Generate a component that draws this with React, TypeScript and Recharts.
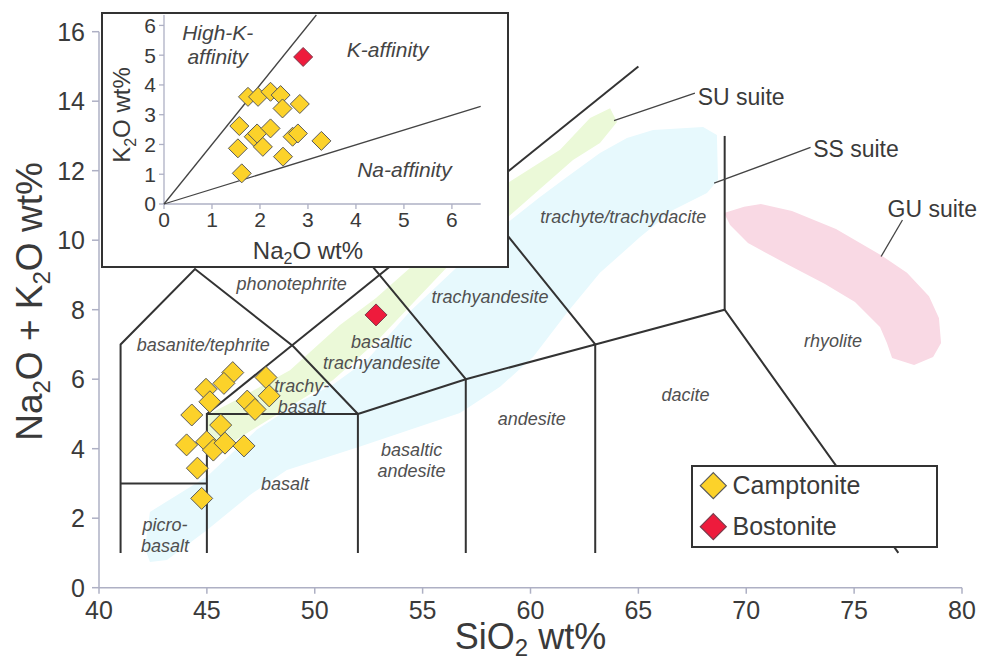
import React from 'react';
import { ScatterChart, Scatter, XAxis, YAxis, Label } from 'recharts';

const FONT = '"Liberation Sans", Arial, Helvetica, sans-serif';
const AXIS_COLOR = '#aeb0c4';
const LINE_COLOR = '#333333';
const TEXT_COLOR = '#3a3a3a';
const LABEL_COLOR = '#505050';
const CAMP_FILL = '#fcd22a';
const CAMP_STROKE = '#5a5a5a';
const BOST_FILL = '#ee1b3c';
const BOST_STROKE = '#7a3a4a';

// ---------------- Main TAS data (SiO2 wt%, Na2O+K2O wt%) ----------------
const camptoniteSiO2 = [46.2, 45.79, 44.96, 45.14, 44.3, 47.74, 46.87, 47.89, 47.23, 45.64, 44.06, 44.99, 45.3, 45.84, 46.72, 44.56, 44.76];
const camptoniteAlkali = [6.19, 5.88, 5.71, 5.35, 4.97, 6.05, 5.37, 5.52, 5.13, 4.68, 4.11, 4.2, 3.96, 4.16, 4.08, 3.44, 2.57];
const bostoniteSiO2 = [52.84];
const bostoniteAlkali = [7.85];

// ---------------- Inset data (Na2O wt%, K2O wt%) ----------------
const insetCamptoniteNa2O = [1.75, 1.96, 2.22, 2.43, 2.47, 2.83, 1.57, 1.87, 1.94, 2.22, 2.68, 2.79, 1.54, 2.06, 2.48, 3.28, 1.62];
const insetCamptoniteK2O = [3.6, 3.6, 3.77, 3.66, 3.21, 3.36, 2.62, 2.26, 2.37, 2.54, 2.26, 2.37, 1.87, 1.92, 1.59, 2.12, 1.03];
const insetBostoniteNa2O = [2.9];
const insetBostoniteK2O = [4.94];

// ---------------- Ticks ----------------
const xTicks = [40, 45, 50, 55, 60, 65, 70, 75, 80];
const yTicks = [0, 2, 4, 6, 8, 10, 12, 14, 16];
const insetTicks = [0, 1, 2, 3, 4, 5, 6];

// ---------------- TAS field boundaries ----------------
const boundaryOuter = [[41, 1], [41, 7], [44.45, 9.17], [49, 6.95], [52, 5], [52, 1]];
const boundaryPicro = [[41, 3], [45, 3]];
const boundaryBasalt = [[45, 1], [45, 5], [52, 5]];
const boundaryDiagonal = [[45, 5], [65, 15]];
const boundarySubalkaline = [[52, 5], [57, 6], [63, 7], [69, 8], [77.05, 1]];
const boundary57 = [[57, 1], [57, 6], [53, 9], [51.5, 10.13]];
const boundary63 = [[63, 1], [63, 7], [57.5, 11.24]];
const boundary69 = [[69, 8], [69, 13]];

// ---------------- Suite envelopes ----------------
const suSiO2 = [45.01, 46.54, 48.85, 51.17, 52.84, 54.41, 56.73, 58.96, 61.37, 62.76, 63.69, 64.01, 63.22, 61.97, 58.96, 56.36, 52.84, 50.85, 47.46, 45.01];
const suAlkali = [4.97, 5.46, 6.26, 7.56, 8.34, 9.2, 10.29, 11.65, 12.6, 13.52, 13.8, 13.4, 12.8, 12.31, 10.67, 9.37, 7.07, 5.98, 4.68, 3.73];
const ssSiO2 = [42.13, 42.36, 45.01, 47.32, 49.32, 50.85, 52.42, 54.41, 56.55, 58.96, 60.44, 61.69, 63.22, 64.47, 65.68, 68.0, 68.64, 68.69, 68.18, 66.61, 65.08, 63.22, 61.69, 60.12, 58.59, 56.73, 55.48, 52.0, 48.71, 47.0, 45.01, 43.15, 42.36];
const ssAlkali = [1.14, 2.18, 3.2, 4.55, 5.35, 5.85, 6.55, 7.95, 9.2, 10.52, 11.24, 11.82, 12.51, 12.94, 13.17, 13.26, 13.03, 11.73, 11.36, 10.87, 10.09, 9.06, 7.91, 6.64, 5.78, 5.03, 4.77, 4.04, 3.39, 2.67, 1.66, 0.8, 0.74];
const guSiO2 = [68.97, 69.9, 70.68, 72.12, 74.16, 76.25, 77.45, 78.47, 78.93, 79.03, 78.66, 77.78, 76.76, 76.52, 76.2, 75.04, 73.65, 71.94, 70.08, 69.25];
const guAlkali = [10.78, 10.96, 11.04, 10.84, 10.32, 9.57, 9.06, 8.39, 7.76, 7.04, 6.64, 6.41, 6.61, 7.04, 7.5, 8.22, 8.74, 9.29, 9.92, 10.44];

const suLeader = [[63.87, 13.44], [67.62, 14.23]];
const ssLeader = [[68.51, 11.64], [72.98, 12.67]];
const guLeader = [[76.25, 9.53], [77.24, 10.58]];

const suiteLabelText = ['SU suite', 'SS suite', 'GU suite'];
const suiteLabelSiO2 = [67.75, 73.1, 76.55];
const suiteLabelAlkali = [14.13, 12.64, 10.89];

const fieldLabelText = [
  'phonotephrite', 'basanite/tephrite', 'trachy-\nbasalt', 'basaltic\ntrachyandesite', 'trachyandesite',
  'basaltic\nandesite', 'basalt', 'picro-\nbasalt', 'andesite', 'dacite', 'rhyolite', 'trachyte/trachydacite',
];
const fieldLabelSiO2 = [48.93, 44.83, 49.4, 53.1, 58.12, 54.49, 48.62, 43.06, 60.06, 67.19, 74.02, 64.3];
const fieldLabelAlkali = [8.76, 6.98, 5.5, 6.78, 8.37, 3.67, 3.0, 1.5, 4.85, 5.55, 7.11, 10.68];

// ---------------- Inset lines & labels ----------------
const insetHighKLine = [[0, 0], [3.175, 6.35]];
const insetNaLine = [[0, 0], [6.6, 3.28]];
const insetLabelText = ['High-K-\naffinity', 'K-affinity', 'Na-affinity'];
const insetLabelNa2O = [1.12, 4.66, 5.01];
const insetLabelK2O = [5.34, 5.17, 1.14];

// ---------------- helpers ----------------
const toXY = (xs: number[], ys: number[]) => xs.map((x, i) => ({ x, y: ys[i] }));
const pairs = (pts: number[][]) => pts.map(([x, y]) => ({ x, y }));
const labelRows = (texts: string[], xs: number[], ys: number[]) => texts.map((t, i) => ({ x: xs[i], y: ys[i], text: t }));

const noDot = () => <g />;

const polygonLine = (fill: string) => (p: any) => (
  <polygon points={(p.points || []).map((q: any) => `${q.x},${q.y}`).join(' ')} fill={fill} stroke="none" />
);

const diamond = (r: number, fill: string, stroke: string) => (p: any) => {
  const { cx, cy } = p;
  return (
    <polygon
      points={`${cx},${cy - r} ${cx + r},${cy} ${cx},${cy + r} ${cx - r},${cy}`}
      fill={fill}
      stroke={stroke}
      strokeWidth={1}
    />
  );
};

const textShape = (size: number, italic: boolean, anchor: 'start' | 'middle', color: string, lineH: number) => (p: any) => {
  const d = p.payload ?? p;
  const lines = String(d.text).split('\n');
  const y0 = p.cy - ((lines.length - 1) * lineH) / 2;
  return (
    <text textAnchor={anchor} fontSize={size} fontStyle={italic ? 'italic' : 'normal'} fill={color} fontFamily={FONT}>
      {lines.map((l, i) => (
        <tspan key={i} x={p.cx} y={y0 + i * lineH} dy="0.35em">
          {l}
        </tspan>
      ))}
    </text>
  );
};

const lineStyle = (stroke: string, width: number) => ({ stroke, strokeWidth: width, fill: 'none' });

const XTitle = (props: any) => {
  const vb = props.viewBox || { x: 99, y: 587.7, width: 863, height: 74 };
  const cx = vb.x + vb.width / 2;
  const y = vb.y + 61;
  return (
    <text x={cx} y={y} textAnchor="middle" fontSize={36} fill={TEXT_COLOR} fontFamily={FONT}>
      SiO<tspan fontSize={24} dy={7}>2</tspan>
      <tspan dy={-7}> wt%</tspan>
    </text>
  );
};

const YTitle = (props: any) => {
  const vb = props.viewBox || { x: 0, y: 31.7, width: 99, height: 556 };
  const cx = 41.7;
  const cy = vb.y + 269.8;
  return (
    <text x={cx} y={cy} transform={`rotate(-90 ${cx} ${cy})`} textAnchor="middle" fontSize={37} fill={TEXT_COLOR} fontFamily={FONT}>
      Na<tspan fontSize={24} dy={8}>2</tspan>
      <tspan dy={-8}>O + K</tspan>
      <tspan fontSize={24} dy={8}>2</tspan>
      <tspan dy={-8}>O wt%</tspan>
    </text>
  );
};

const InsetXTitle = (props: any) => {
  const vb = props.viewBox || { x: 61, y: 190, width: 317, height: 62 };
  const cx = vb.x + 144;
  const y = vb.y + 55;
  return (
    <text x={cx} y={y} textAnchor="middle" fontSize={24} fill={TEXT_COLOR} fontFamily={FONT}>
      Na<tspan fontSize={16} dy={5}>2</tspan>
      <tspan dy={-5}>O wt%</tspan>
    </text>
  );
};

const InsetYTitle = (props: any) => {
  const vb = props.viewBox || { x: 0, y: 1, width: 61, height: 189 };
  const cx = 27;
  const cy = vb.y + 100;
  return (
    <text x={cx} y={cy} transform={`rotate(-90 ${cx} ${cy})`} textAnchor="middle" fontSize={24} fill={TEXT_COLOR} fontFamily={FONT}>
      K<tspan fontSize={16} dy={6}>2</tspan>
      <tspan dy={-6}>O wt%</tspan>
    </text>
  );
};

const axisTick = (size: number) => ({ fill: TEXT_COLOR, fontSize: size, fontFamily: FONT });

const boundaries = [boundaryOuter, boundaryPicro, boundaryBasalt, boundaryDiagonal, boundarySubalkaline, boundary57, boundary63, boundary69];
const leaders = [suLeader, ssLeader, guLeader];

function MainChart() {
  return (
    <ScatterChart width={984} height={662} margin={{ top: 31.7, right: 22, bottom: 0, left: 0 }}>
      <XAxis
        type="number"
        dataKey="x"
        domain={[40, 80]}
        ticks={xTicks}
        interval={0}
        height={74.3}
        axisLine={{ stroke: AXIS_COLOR, strokeWidth: 1.5 }}
        tickLine={{ stroke: AXIS_COLOR, strokeWidth: 1.5 }}
        tickSize={6}
        tickMargin={8}
        tick={axisTick(25)}
      >
        <Label content={XTitle} />
      </XAxis>
      <YAxis
        type="number"
        dataKey="y"
        domain={[0, 16]}
        ticks={yTicks}
        interval={0}
        width={99}
        axisLine={{ stroke: AXIS_COLOR, strokeWidth: 1.5 }}
        tickLine={{ stroke: AXIS_COLOR, strokeWidth: 1.5 }}
        tickSize={7}
        tickMargin={7}
        tick={axisTick(25)}
      >
        <Label content={YTitle} />
      </YAxis>

      <Scatter data={toXY(ssSiO2, ssAlkali)} shape={noDot} line={polygonLine('#e7f9fd')} isAnimationActive={false} />
      <Scatter data={toXY(suSiO2, suAlkali)} shape={noDot} line={polygonLine('#ebf9d8')} isAnimationActive={false} />
      <Scatter data={toXY(guSiO2, guAlkali)} shape={noDot} line={polygonLine('#f9d9e4')} isAnimationActive={false} />

      {boundaries.map((b, i) => (
        <Scatter key={`b${i}`} data={pairs(b)} shape={noDot} line={lineStyle(LINE_COLOR, 2)} isAnimationActive={false} />
      ))}
      {leaders.map((b, i) => (
        <Scatter key={`l${i}`} data={pairs(b)} shape={noDot} line={lineStyle('#444', 1.3)} isAnimationActive={false} />
      ))}

      <Scatter
        data={labelRows(fieldLabelText, fieldLabelSiO2, fieldLabelAlkali)}
        shape={textShape(18, true, 'middle', LABEL_COLOR, 21)}
        isAnimationActive={false}
      />
      <Scatter
        data={labelRows(suiteLabelText, suiteLabelSiO2, suiteLabelAlkali)}
        shape={textShape(23, false, 'start', TEXT_COLOR, 24)}
        isAnimationActive={false}
      />

      <Scatter data={toXY(camptoniteSiO2, camptoniteAlkali)} shape={diamond(11, CAMP_FILL, CAMP_STROKE)} isAnimationActive={false} />
      <Scatter data={toXY(bostoniteSiO2, bostoniteAlkali)} shape={diamond(11, BOST_FILL, BOST_STROKE)} isAnimationActive={false} />
    </ScatterChart>
  );
}

function InsetChart() {
  return (
    <ScatterChart width={404} height={252} margin={{ top: 1, right: 26.3, bottom: 0, left: 0 }}>
      <XAxis
        type="number"
        dataKey="x"
        domain={[0, 6.6]}
        ticks={insetTicks}
        interval={0}
        height={62}
        axisLine={{ stroke: AXIS_COLOR, strokeWidth: 1.3 }}
        tickLine={{ stroke: AXIS_COLOR, strokeWidth: 1.3 }}
        tickSize={5}
        tickMargin={3}
        tick={axisTick(21)}
      >
        <Label content={InsetXTitle} />
      </XAxis>
      <YAxis
        type="number"
        dataKey="y"
        domain={[0, 6.35]}
        ticks={insetTicks}
        interval={0}
        width={61}
        axisLine={{ stroke: AXIS_COLOR, strokeWidth: 1.3 }}
        tickLine={{ stroke: AXIS_COLOR, strokeWidth: 1.3 }}
        tickSize={5}
        tickMargin={3}
        tick={axisTick(21)}
      >
        <Label content={InsetYTitle} />
      </YAxis>
      <Scatter data={pairs(insetHighKLine)} shape={noDot} line={lineStyle('#444', 1.3)} isAnimationActive={false} />
      <Scatter data={pairs(insetNaLine)} shape={noDot} line={lineStyle('#444', 1.3)} isAnimationActive={false} />
      <Scatter
        data={labelRows(insetLabelText, insetLabelNa2O, insetLabelK2O)}
        shape={textShape(21, true, 'middle', '#444', 24)}
        isAnimationActive={false}
      />
      <Scatter data={toXY(insetCamptoniteNa2O, insetCamptoniteK2O)} shape={diamond(9.5, CAMP_FILL, CAMP_STROKE)} isAnimationActive={false} />
      <Scatter data={toXY(insetBostoniteNa2O, insetBostoniteK2O)} shape={diamond(9.5, BOST_FILL, BOST_STROKE)} isAnimationActive={false} />
    </ScatterChart>
  );
}

function LegendBox() {
  const items = [
    { name: 'Camptonite', fill: CAMP_FILL, stroke: CAMP_STROKE },
    { name: 'Bostonite', fill: BOST_FILL, stroke: BOST_STROKE },
  ];
  return (
    <div
      style={{
        position: 'absolute',
        left: 691,
        top: 465,
        width: 247,
        height: 83,
        border: '2px solid #333',
        boxSizing: 'border-box',
        background: '#fff',
      }}
    >
      <svg width={243} height={79} style={{ display: 'block' }}>
        {items.map((it, i) => {
          const cx = 20.3;
          const cy = 18.7 + i * 41;
          const r = 13;
          return (
            <g key={it.name}>
              <polygon
                points={`${cx},${cy - r} ${cx + r},${cy} ${cx},${cy + r} ${cx - r},${cy}`}
                fill={it.fill}
                stroke={it.stroke}
                strokeWidth={1.2}
              />
              <text x={39.5} y={cy} dy="0.35em" fontSize={25} fill={TEXT_COLOR} fontFamily={FONT}>
                {it.name}
              </text>
            </g>
          );
        })}
      </svg>
    </div>
  );
}

export default function App() {
  return (
    <div
      style={{
        position: 'absolute',
        left: 0,
        top: 0,
        width: 984,
        height: 662,
        background: '#fff',
        fontFamily: FONT,
        overflow: 'hidden',
      }}
    >
      <MainChart />
      <div
        style={{
          position: 'absolute',
          left: 101,
          top: 12,
          width: 408,
          height: 256,
          border: '2px solid #333',
          boxSizing: 'border-box',
          background: '#fff',
        }}
      >
        <InsetChart />
      </div>
      <LegendBox />
    </div>
  );
}
